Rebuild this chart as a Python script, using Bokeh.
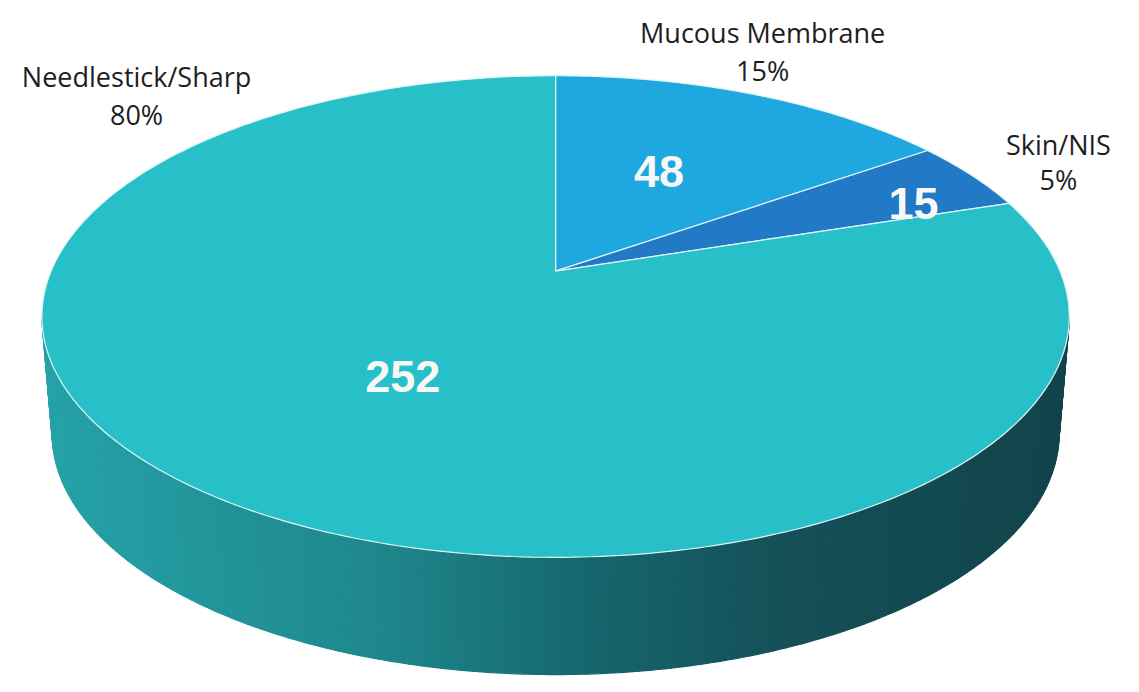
import numpy as np
from bokeh.plotting import figure
from bokeh.models import Range1d
from bokeh.embed import file_html
from bokeh.resources import INLINE
from bokeh.core.properties import value

# ---------------- data ----------------
categories = ["Mucous Membrane", "Skin/NIS", "Needlestick/Sharp"]
counts = [48, 15, 252]
slice_colors = ["#1ea8df", "#2279c6", "#28c0c8"]

total = sum(counts)
pct_labels = [f"{round(100 * c / total)}%" for c in counts]
value_labels = [str(c) for c in counts]

# ---------------- layout (reference pixel space 1139 x 692) ----------------
CX = 563.0          # x of pie centre
B_ = 277.0          # y of pie centre (vertex)
TOP_Y, NEAR_Y = 77.0, 570.0
HALF_W = 521.0
DEPTH = 120.0
BOTTOM_SCALE = 0.98

# perspective: y(v) = (a v + B)/(c v + 1) with y(1)=TOP_Y, y(-1)=NEAR_Y
c_ = (2 * B_ - TOP_Y - NEAR_Y) / (TOP_Y - NEAR_Y)
a_ = TOP_Y * c_ + TOP_Y - B_
k_ = HALF_W * np.sqrt(1 - c_ ** 2)


def proj(phi, r=1.0, bottom=False):
    u = r * np.sin(phi)
    v = r * np.cos(phi)
    den = 1 + c_ * v
    x = CX + k_ * u / den
    y = (a_ * v + B_) / den
    if bottom:
        x = CX + BOTTOM_SCALE * (x - CX)
        y = y + DEPTH
    return x, y


# label placement
cat_label_x = [773, 1073, 138]
cat_label_y1 = [33, 147, 78]
cat_label_y2 = [72, 183, 117]
val_label_x = [668, 926, 408]
val_label_y = [175, 208, 385]

W, H = 1123, 676
p = figure(width=W, height=H, output_backend="svg", toolbar_location=None,
           x_range=Range1d(0, 1139), y_range=Range1d(692, 0),
           min_border=0, outline_line_color=None, background_fill_color="white",
           border_fill_color="white")
p.axis.visible = False
p.grid.visible = False

# ---------------- side wall with gradient ----------------
phi_r = np.arccos(-c_)
phi_l = 2 * np.pi - phi_r
N = 260
phis = np.linspace(phi_r, phi_l, N + 1)
tx, ty = proj(phis)
bx, by = proj(phis, bottom=True)

stops_t = [0.0, 0.33, 0.53, 0.72, 1.0]
stops_rgb = np.array([(37, 163, 168), (30, 135, 140), (22, 102, 110), (21, 80, 88), (18, 68, 74)])
x0, x1 = CX - HALF_W, CX + HALF_W

xs, ys, cols = [], [], []
for i in range(N):
    xs.append([tx[i], tx[i + 1], bx[i + 1], bx[i]])
    ys.append([ty[i], ty[i + 1], by[i + 1], by[i]])
    xm = (tx[i] + tx[i + 1] + bx[i] + bx[i + 1]) / 4
    t = (xm - x0) / (x1 - x0)
    rgb = [int(round(np.interp(t, stops_t, stops_rgb[:, ch]))) for ch in range(3)]
    cols.append("#%02x%02x%02x" % tuple(rgb))
p.patches(xs, ys, fill_color=cols, line_color=cols, line_width=1.2)

# ---------------- top slices ----------------
ang = np.cumsum([0] + counts) / total * 2 * np.pi
sx, sy = [], []
cx0, cy0 = proj(0.0, r=0.0)
for i in range(len(counts)):
    a = np.linspace(ang[i], ang[i + 1], max(8, int(400 * counts[i] / total)))
    ex, ey = proj(a)
    sx.append([cx0] + list(ex))
    sy.append([cy0] + list(ey))
p.patches(sx, sy, fill_color=slice_colors, line_color="#dff6f6", line_width=1.2)

# ---------------- labels ----------------
p.text(x=cat_label_x, y=cat_label_y1, text=categories, text_font=value("Open Sans"),
       text_font_size="27px", text_align="center", text_baseline="alphabetic",
       text_color="#1e1e1e")
p.text(x=cat_label_x, y=cat_label_y2, text=pct_labels, text_font=value("Open Sans"),
       text_font_size="27px", text_align="center", text_baseline="alphabetic",
       text_color="#1e1e1e")
p.text(x=val_label_x, y=val_label_y, text=value_labels, text_font=value("Liberation Sans"),
       text_font_size="45px", text_font_style="bold", text_align="center",
       text_baseline="alphabetic", text_color="#f7f7f7")

open("out.html", "w").write(file_html(p, INLINE))
